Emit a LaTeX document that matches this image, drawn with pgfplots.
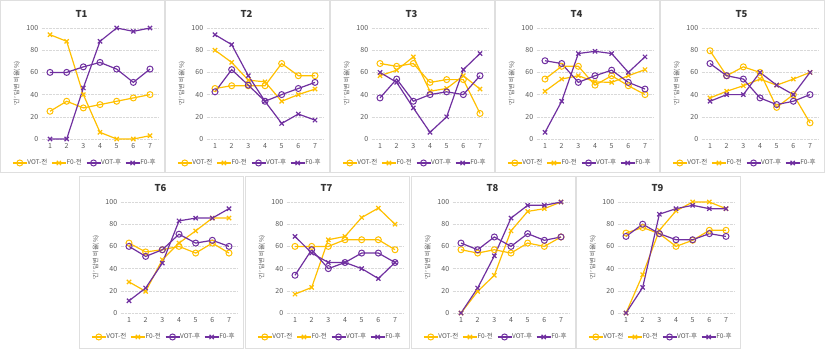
\documentclass[border=0pt]{standalone}
\usepackage{fontspec}
\setmainfont{Noto Sans CJK KR}
\usepackage{pgfplots}
\pgfplotsset{compat=1.18}
\definecolor{cyel}{RGB}{255,192,0}
\definecolor{cpur}{RGB}{112,48,160}
\definecolor{ctxt}{RGB}{89,89,89}
\pgfplotsset{
  panel/.style={
    scale only axis, width=116.67pt, height=111pt, anchor=south west,
    xmin=0.5, xmax=7.5, ymin=0, ymax=100,
    xtick={1,...,7}, ytick={0,20,...,100},
    axis line style={draw=none}, major tick length=0pt,
    ymajorgrids, grid style={gray!30, densely dotted, line width=0.4pt},
    clip=false,
    /pgf/number format/assume math mode=true,
    tick label style={font=\fontsize{7}{8}\selectfont, text=ctxt},
    xticklabel style={yshift=-1pt},
    ylabel={‘긴’ 답변 비율(\%)},
    ylabel style={font=\fontsize{6.2}{7}\selectfont, text=ctxt, at={(axis description cs:-0.212,0.5)}, anchor=center},
    title style={font=\fontsize{9.5}{10}\selectfont\bfseries, text=black!80, at={(axis description cs:0.341,1.126)}, anchor=center, yshift=-6pt},
    legend columns=4,
    legend style={draw=none, fill=none, font=\fontsize{6.5}{7}\selectfont, text=ctxt,
      at={(axis description cs:0.371,-0.216)}, anchor=center,
      /tikz/every even column/.append style={column sep=2pt},
      /tikz/every odd column/.append style={column sep=-2pt}},
    legend image code/.code={\draw[mark repeat=2,mark phase=2] plot coordinates {(0pt,0pt) (7pt,0pt) (14pt,0pt)};},
  },
  vpre/.style={cyel, line width=1.2pt, mark=o, mark size=3pt, mark options={fill=white, line width=1pt}},
  fpre/.style={cyel, line width=1.2pt, mark=x, mark size=3pt, mark options={line width=1.2pt}},
  vpost/.style={cpur, line width=1.2pt, mark=o, mark size=3pt, mark options={fill=white, line width=1pt}},
  fpost/.style={cpur, line width=1.2pt, mark=x, mark size=3pt, mark options={line width=1.2pt}},
}
\newcommand{\panel}[7]{%
  \begin{axis}[panel, at={(#1pt+41.67pt,#2pt)}, title={#3}]
    \addplot[vpre] coordinates {#4};
    \addplot[fpre] coordinates {#5};
    \addplot[vpost] coordinates {#6};
    \addplot[fpost] coordinates {#7};
    \legend{VOT-전,F0-전,VOT-후,F0-후}
  \end{axis}}
\begin{document}
\begin{tikzpicture}
\path[use as bounding box, fill=white] (0pt,0pt) rectangle (827pt,349pt);
\foreach \o in {0,165,330,495,660} {\draw[gray!25, line width=0.5pt] (\o pt+0.5pt,177pt) rectangle (\o pt+164pt,348.5pt);}
\foreach \o in {79,245,411,576} {\draw[gray!25, line width=0.5pt] (\o pt+0.5pt,0.5pt) rectangle (\o pt+164pt,173pt);}
% top row
\panel{0}{210}{T1}
 {(1,25)(2,34)(3,28)(4,31)(5,34)(6,37)(7,40)}
 {(1,94)(2,88)(3,40)(4,6)(5,0)(6,0)(7,3)}
 {(1,60)(2,60)(3,65)(4,69)(5,63)(6,51)(7,63)}
 {(1,0)(2,0)(3,46)(4,88)(5,100)(6,97)(7,100)}
\panel{165}{210}{T2}
 {(1,45.5)(2,48)(3,48)(4,48)(5,68)(6,57)(7,57)}
 {(1,80)(2,69)(3,53)(4,51.5)(5,34)(6,40)(7,45)}
 {(1,42.5)(2,62.5)(3,48.5)(4,34)(5,40)(6,45.5)(7,51)}
 {(1,94)(2,85)(3,57)(4,34)(5,14)(6,22.5)(7,17)}
\panel{330}{210}{T3}
 {(1,68)(2,65.5)(3,68)(4,51)(5,53.5)(6,53.5)(7,23)}
 {(1,57)(2,62)(3,74)(4,43)(5,45.5)(6,57)(7,45)}
 {(1,37)(2,54)(3,34)(4,40)(5,42.5)(6,40)(7,57)}
 {(1,60)(2,51)(3,28)(4,6)(5,20)(6,62.5)(7,77)}
\panel{495}{210}{T4}
 {(1,54)(2,65.5)(3,65.5)(4,48.5)(5,57)(6,48)(7,40)}
 {(1,43)(2,54)(3,57)(4,51.5)(5,51)(6,57)(7,62.5)}
 {(1,70.5)(2,68)(3,51)(4,57)(5,62)(6,51)(7,45)}
 {(1,6)(2,34)(3,77)(4,79)(5,77)(6,60)(7,74)}
\panel{660}{210}{T5}
 {(1,79.5)(2,57)(3,65)(4,60)(5,28.5)(6,40)(7,14.5)}
 {(1,37)(2,43)(3,48)(4,54)(5,48.5)(6,54)(7,60)}
 {(1,68)(2,57)(3,54)(4,37)(5,31)(6,34)(7,40)}
 {(1,34)(2,40)(3,40)(4,60)(5,48.5)(6,40)(7,60)}
% bottom row
\panel{79}{36}{T6}
 {(1,63)(2,55)(3,57)(4,60)(5,54)(6,63)(7,54)}
 {(1,28)(2,19.5)(3,48)(4,63)(5,74)(6,85.5)(7,85.5)}
 {(1,60)(2,51)(3,57)(4,71)(5,63)(6,65.5)(7,60)}
 {(1,11)(2,22.5)(3,45)(4,83)(5,85.5)(6,85.5)(7,94)}
\panel{245}{36}{T7}
 {(1,60)(2,60)(3,60)(4,66)(5,66)(6,66)(7,57)}
 {(1,17)(2,23)(3,66)(4,69)(5,86)(6,94.5)(7,80)}
 {(1,34)(2,57)(3,40)(4,45.5)(5,54)(6,54)(7,45.5)}
 {(1,69)(2,54)(3,45.5)(4,45.5)(5,40)(6,31)(7,45.5)}
\panel{411}{36}{T8}
 {(1,57)(2,54)(3,57)(4,54)(5,63)(6,60)(7,68.5)}
 {(1,0)(2,19.5)(3,34)(4,74)(5,91.5)(6,94)(7,100)}
 {(1,63)(2,57)(3,68.5)(4,60)(5,71.5)(6,65.5)(7,68.5)}
 {(1,0)(2,22.5)(3,51.5)(4,85.5)(5,97)(6,97)(7,100)}
\panel{576}{36}{T9}
 {(1,72)(2,77)(3,71.5)(4,60)(5,65.5)(6,74.5)(7,74.5)}
 {(1,0)(2,34.5)(3,74.5)(4,92)(5,100)(6,100)(7,94)}
 {(1,69)(2,80)(3,71.5)(4,66)(5,66)(6,71.5)(7,69)}
 {(1,0)(2,23)(3,89)(4,94)(5,97)(6,94)(7,94)}
\end{tikzpicture}
\end{document}
